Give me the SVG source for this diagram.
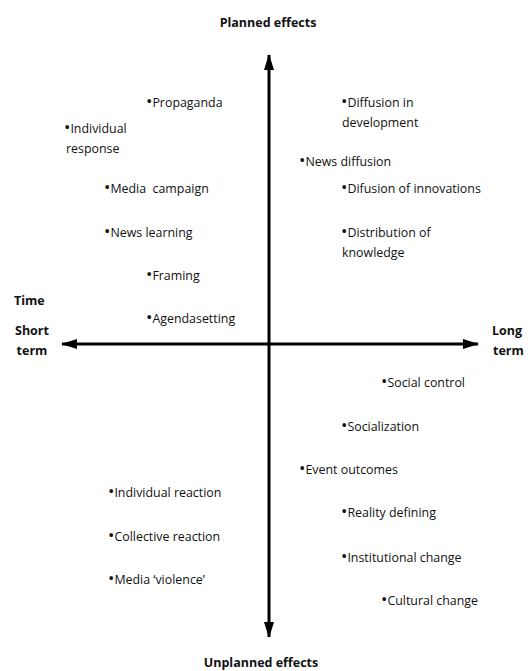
<svg xmlns="http://www.w3.org/2000/svg" width="531" height="671" viewBox="0 0 531 671">
<style>
text{font-family:"Open Sans","Noto Sans","DejaVu Sans",sans-serif;fill:#111;}
.it{font-size:12.4px;}
.it tspan.d{font-size:17px;}
.b{font-size:12.5px;font-weight:bold;}
.ax{stroke:#000;stroke-width:3;fill:none;}
</style>
<defs>
<marker id="ah" viewBox="0 0 16 10" refX="15" refY="5" markerWidth="16" markerHeight="10" markerUnits="userSpaceOnUse" orient="auto-start-reverse">
<path d="M0,0 L16,5 L0,10 Z" fill="#000"/>
</marker>
</defs>
<rect width="531" height="671" fill="#fff"/>
<g id="connectors">
<line class="ax" x1="269" y1="637" x2="269" y2="55" marker-end="url(#ah)" marker-start="url(#ah)"/>
<line class="ax" x1="62" y1="344" x2="478" y2="344" marker-end="url(#ah)" marker-start="url(#ah)"/>
</g>
<g id="planned"><text class="b" x="268" y="27" text-anchor="middle">Planned effects</text></g>
<g id="unplanned"><text class="b" x="261" y="667" text-anchor="middle">Unplanned effects</text></g>
<g id="time"><text class="b" x="14" y="305">Time</text></g>
<g id="short"><text class="b" x="32" y="335" text-anchor="middle">Short</text><text class="b" x="32" y="355" text-anchor="middle">term</text></g>
<g id="long"><text class="b" x="492" y="335">Long</text><text class="b" x="493" y="355">term</text></g>
<g id="propaganda"><text class="it" x="146" y="107"><tspan class="d">•</tspan>Propaganda</text></g>
<g id="individual-response"><text class="it" x="64" y="133"><tspan class="d">•</tspan>Individual</text><text class="it" x="66" y="153">response</text></g>
<g id="media-campaign"><text class="it" x="104" y="193" xml:space="preserve"><tspan class="d">•</tspan>Media  campaign</text></g>
<g id="news-learning"><text class="it" x="104" y="237"><tspan class="d">•</tspan>News learning</text></g>
<g id="framing"><text class="it" x="146" y="280"><tspan class="d">•</tspan>Framing</text></g>
<g id="agendasetting"><text class="it" x="146" y="323"><tspan class="d">•</tspan>Agendasetting</text></g>
<g id="diffusion-development"><text class="it" x="341" y="107"><tspan class="d">•</tspan>Diffusion in</text><text class="it" x="342" y="127">development</text></g>
<g id="news-diffusion"><text class="it" x="299" y="166"><tspan class="d">•</tspan>News diffusion</text></g>
<g id="difusion-innovations"><text class="it" x="341" y="193"><tspan class="d">•</tspan>Difusion of innovations</text></g>
<g id="distribution-knowledge"><text class="it" x="341" y="237"><tspan class="d">•</tspan>Distribution of</text><text class="it" x="342" y="257">knowledge</text></g>
<g id="social-control"><text class="it" x="381" y="387"><tspan class="d">•</tspan>Social control</text></g>
<g id="socialization"><text class="it" x="341" y="431"><tspan class="d">•</tspan>Socialization</text></g>
<g id="event-outcomes"><text class="it" x="299" y="474"><tspan class="d">•</tspan>Event outcomes</text></g>
<g id="reality-defining"><text class="it" x="341" y="517"><tspan class="d">•</tspan>Reality defining</text></g>
<g id="institutional-change"><text class="it" x="341" y="562"><tspan class="d">•</tspan>Institutional change</text></g>
<g id="cultural-change"><text class="it" x="381" y="605"><tspan class="d">•</tspan>Cultural change</text></g>
<g id="individual-reaction"><text class="it" x="108" y="497"><tspan class="d">•</tspan>Individual reaction</text></g>
<g id="collective-reaction"><text class="it" x="108" y="541"><tspan class="d">•</tspan>Collective reaction</text></g>
<g id="media-violence"><text class="it" x="108" y="584"><tspan class="d">•</tspan>Media ‘violence’</text></g>
</svg>
